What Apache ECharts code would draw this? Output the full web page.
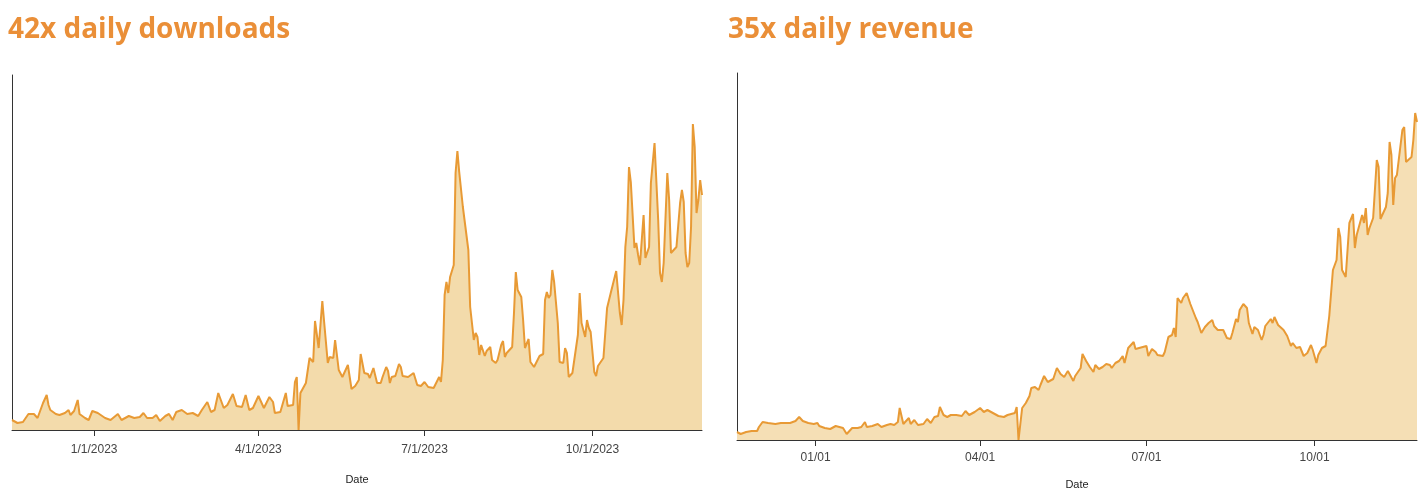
<!DOCTYPE html>
<html>
<head>
<meta charset="utf-8">
<script src="https://cdn.jsdelivr.net/npm/echarts@6/dist/echarts.min.js"></script>
<style>
  html, body { margin: 0; padding: 0; background: #fff; }
  #chart { width: 1427px; height: 492px; }
</style>
</head>
<body>
<div id="chart"></div>
<script>
// day offsets are counted from the first date of each chart
var dlStart = new Date(2022, 10, 17).getTime();
var dlDays = [0,3,6,9,12,14,15,17,19,20,21,22,24,26,29,31,32,34,36,37,38,40,42,44,47,48,51,54,58,60,64,67,70,72,74,77,79,81,84,86,88,90,93,96,99,100,102,104,107,109,111,113,116,118,121,123,
  126,128,130,132,135,138,141,143,144,147,150,151,154,155,156,157,158,161,162,163,165,166,168,170,171,173,174,176,177,178,179,181,184,186,188,190,191,192,193,195,196,198,199,200,202,203,205,206,207,208,210,212,213,214,217,218,220,222,224,226,228,231,232,234,235,236,237,238,239,240,241,242,243,244,245,247,248,250,251,253,254,255,256,257,259,260,262,263,265,266,268,269,270,271,274,275,276,277,279,280,281,283,284,286,287,289,291,292,293,294,295,296,297,299,300,302,303,304,305,307,308,310,311,312,314,315,316,317,319,320,321,322,324,326,327,328,329,331,332,333,334,335,336,337,338,339,341,342,343,344,346,347,348,349,350,352,354,355,356,357,359,360,361,362,364,365,366,367,368,369,370,371,372,373,374,375,376,377,378];
var dlValues = [10,7,8,16,16,12,13,27,35,25,20,18,16,15,17,20,15,19,30,16,18,12,10,19,17,16,12,10,16,10,14,12,13,17,12,12,15,9,14,16,10,18,20,16,17,17,14,20,28,18,20,37,22,25,36,24,
  23,35,20,22,34,22,33,28,17,18,37,24,25,48,53,0,37,47,48,72,68,109,82,129,108,67,73,72,90,89,60,53,65,41,44,50,76,75,57,56,52,62,60,47,47,53,63,59,47,53,54,66,63,54,53,52,57,45,44,48,43,42,41,53,48,70,135,148,137,153,155,165,257,279,258,223,222,180,123,90,97,93,75,85,74,79,83,70,67,70,85,89,73,77,83,117,158,140,133,110,82,91,68,63,62,74,76,130,138,132,135,160,148,107,68,67,82,77,53,57,59,95,137,107,93,110,102,98,58,54,64,64,72,122,123,137,138,159,158,117,105,130,183,203,263,248,182,187,175,165,215,172,170,183,247,287,210,157,148,167,257,230,177,177,183,182,227,240,228,177,163,167,203,306,283,217,230,250,235];

var revStart = new Date(2022, 10, 19).getTime();
var revDays = [0,2,5,8,11,12,14,17,21,24,26,29,32,34,36,39,42,44,45,48,51,54,55,58,59,60,63,66,68,70,71,74,77,79,82,84,86,88,89,91,92,94,95,97,99,102,104,106,108,110,111,113,115,117,118,120,123,125,127,130,133,135,137,138,140,143,146,148,149,152,153,154,156,158,160,161,163,165,166,168,170,173,175,177,178,179,181,182,184,185,186,188,189,191,193,195,196,198,200,202,204,205,207,209,211,212,214,217,218,219,222,224,225,227,229,230,233,234,236,238,239,240,241,243,244,246,248,251,252,254,256,258,260,261,263,266,268,270,271,273,274,275,277,279,280,282,283,285,287,288,289,292,293,294,295,296,299,301,302,303,304,306,308,310,312,314,315,317,318,320,322,324,326,328,329,330,331,332,333,335,337,338,339,340,342,343,344,345,346,348,349,350,351,352,353,355,356,357,358,359,360,361,362,364,365,366,367,369,370,371,372];
var revValues = [8,6,8,9,9,13,18,17,16,17,17,17,19,23,19,17,16,17,14,12,11,14,15,12,11,6,12,12,13,18,13,14,16,13,15,16,15,18,32,16,15,22,16,20,15,16,21,17,23,24,33,25,23,25,23,25,24,29,25,28,32,28,30,32,27,24,23,25,24,27,33,0,32,37,44,52,53,50,55,64,58,61,72,66,67,63,69,67,59,64,62,72,86,79,73,68,75,71,73,76,75,72,77,79,84,77,92,98,91,93,93,94,84,91,88,85,84,88,103,105,112,103,142,137,142,147,136,122,118,107,113,117,120,114,110,110,102,101,107,121,118,130,136,132,117,106,113,110,100,105,114,121,117,123,122,115,110,104,105,94,97,92,93,84,87,95,90,77,85,92,94,124,170,180,212,203,170,170,163,217,226,192,205,203,225,217,232,205,212,222,223,280,273,221,222,233,247,298,285,235,262,265,263,310,313,278,276,283,300,327,318];

var quarterStarts = [new Date(2023, 0, 1), new Date(2023, 3, 1), new Date(2023, 6, 1), new Date(2023, 9, 1)];

var DAY = 86400000;
var quarterTicks = quarterStarts.map(function (d) { return d.getTime(); });
var dlData = dlDays.map(function (d, i) { return [dlStart + d * DAY, dlValues[i]]; });
var revData = revDays.map(function (d, i) { return [revStart + d * DAY, revValues[i]]; });

function pad(n) { return n < 10 ? '0' + n : '' + n; }

var lineColor = '#E89A35';
var axisColor = '#333';

// value axis over timestamps, ticks only at quarter starts
function xAxisFor(gridIndex, min, max, nameGap, labelMargin, fmt) {
  return {
    type: 'value',
    gridIndex: gridIndex,
    min: min,
    max: max,
    name: 'Date',
    nameLocation: 'middle',
    nameGap: nameGap,
    nameTextStyle: { fontFamily: 'Liberation Sans', fontSize: 11, color: '#222' },
    axisLine: { lineStyle: { color: axisColor, width: 1 } },
    axisTick: { show: true, length: 6, customValues: quarterTicks, lineStyle: { color: axisColor } },
    axisLabel: {
      customValues: quarterTicks,
      formatter: fmt,
      margin: labelMargin,
      fontFamily: 'Liberation Sans',
      fontSize: 12,
      color: '#444'
    },
    splitLine: { show: false }
  };
}

function yAxisFor(gridIndex, max) {
  return {
    type: 'value',
    gridIndex: gridIndex,
    min: 0,
    max: max,
    axisLine: { show: true, lineStyle: { color: axisColor, width: 1 } },
    axisTick: { show: false },
    axisLabel: { show: false },
    splitLine: { show: false }
  };
}

var titleStyle = { fontFamily: 'Open Sans', fontWeight: 'bold', fontSize: 28, color: '#EA8F38' };

var myChart = echarts.init(document.getElementById('chart'));
var option = {
  animation: false,
  backgroundColor: '#fff',
  title: [
    { text: '42x daily downloads', left: 3, top: 11, textStyle: titleStyle },
    { text: '35x daily revenue', left: 723, top: 11, textStyle: titleStyle }
  ],
  grid: [
    { left: 12, top: 75, width: 690, height: 355, outerBoundsMode: 'none' },
    { left: 737, top: 73, width: 680, height: 367, outerBoundsMode: 'none' }
  ],
  xAxis: [
    xAxisFor(0, dlStart, dlStart + 378 * DAY, 44, 14, function (v) {
      var d = new Date(v);
      return (d.getMonth() + 1) + '/' + d.getDate() + '/' + d.getFullYear();
    }),
    xAxisFor(1, revStart, revStart + 372 * DAY, 39, 12, function (v) {
      var d = new Date(v);
      return pad(d.getMonth() + 1) + '/' + pad(d.getDate());
    })
  ],
  yAxis: [yAxisFor(0, 355), yAxisFor(1, 367)],
  series: [
    {
      name: 'Downloads',
      type: 'line',
      xAxisIndex: 0,
      yAxisIndex: 0,
      data: dlData,
      showSymbol: false,
      lineStyle: { color: lineColor, width: 2 },
      areaStyle: { color: '#F3DBAB', opacity: 1 },
      z: 2
    },
    {
      name: 'Revenue',
      type: 'line',
      xAxisIndex: 1,
      yAxisIndex: 1,
      data: revData,
      showSymbol: false,
      lineStyle: { color: lineColor, width: 2 },
      areaStyle: { color: '#F5DFB5', opacity: 1 },
      z: 2
    }
  ]
};
myChart.setOption(option);
</script>
</body>
</html>
